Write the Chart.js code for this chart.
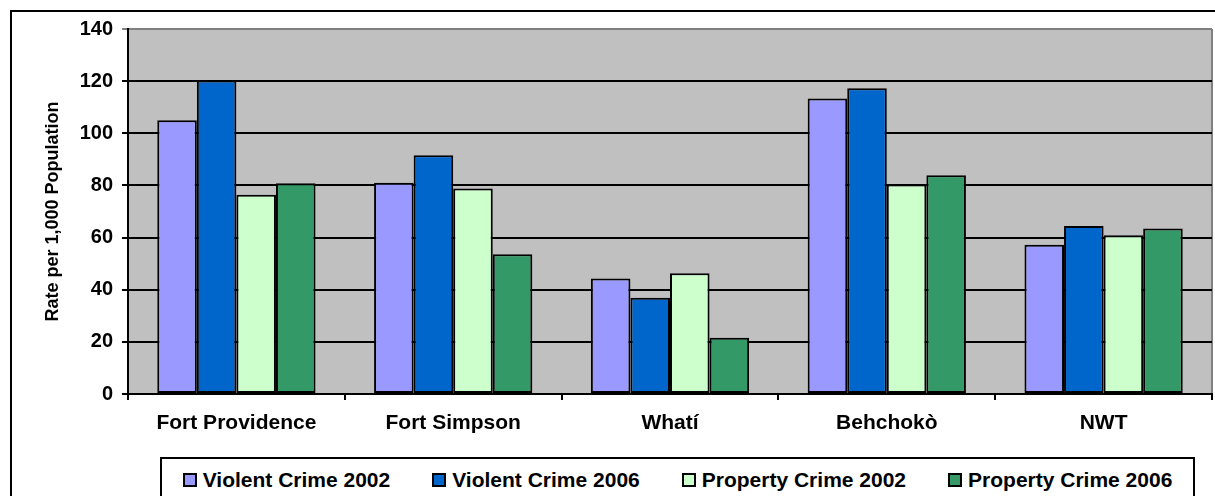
<!DOCTYPE html>
<html lang="en">
<head>
  <meta charset="UTF-8" />
  <title>Crime Rates</title>
  <script src="https://cdn.jsdelivr.net/npm/chart.js"></script>
  <style>
    body { margin: 0; background: #fff; font-family: Arial, "Liberation Sans", sans-serif; }
    .page { position: relative; width: 1215px; height: 496px; overflow: hidden; }
    .frame { position: absolute; left: 10px; top: 10px; width: 1300px; height: 600px; border: 2px solid #000; box-sizing: border-box; }
    .chart-box { position: absolute; left: 0; top: 0; width: 1215px; height: 445px; }
    .legend { position: absolute; left: 160px; top: 457px; width: 1035px; height: 80px; border: 2px solid #000; box-sizing: border-box;
              display: flex; justify-content: center; gap: 42px; padding-top: 8px; }
    .legend span.item { display: inline-flex; align-items: center; font-weight: bold; font-size: 21px; white-space: nowrap; height: 25px; }
    .legend span.sw { display: inline-block; width: 14px; height: 14px; border: 2px solid #000; box-sizing: border-box; margin-right: 6px; }
  </style>
</head>
<body>
<div class="page">
  <div class="frame"></div>
  <div class="chart-box"><canvas id="crimeChart"></canvas></div>
  <div class="legend" id="legend"></div>
</div>

<script>
  const communities = ['Fort Providence', 'Fort Simpson', 'Whatí', 'Behchokò', 'NWT'];
  const violent2002 = [105, 81, 44.3, 113.3, 57.2];
  const violent2006 = [120.2, 91.6, 36.9, 117.3, 64.4];
  const property2002 = [76.4, 78.8, 46.3, 80.4, 60.9];
  const property2006 = [80.8, 53.6, 21.6, 83.9, 63.5];
  const yTicks = [0, 20, 40, 60, 80, 100, 120, 140];

  const plotBg = {
    id: 'plotBg',
    beforeDraw(chart) {
      const { ctx, chartArea: a } = chart;
      ctx.save();
      ctx.fillStyle = '#C0C0C0';
      ctx.fillRect(a.left, a.top, a.right - a.left, a.bottom - a.top);
      ctx.strokeStyle = '#808080';
      ctx.lineWidth = 2;
      ctx.beginPath();
      ctx.moveTo(a.right, a.top);
      ctx.lineTo(a.right, a.bottom);
      ctx.stroke();
      ctx.restore();
    }
  };

  const chart = new Chart(document.getElementById('crimeChart'), {
    type: 'bar',
    data: {
      labels: communities,
      datasets: [
        { label: 'Violent Crime 2002', data: violent2002, backgroundColor: '#9999FF' },
        { label: 'Violent Crime 2006', data: violent2006, backgroundColor: '#0066CC' },
        { label: 'Property Crime 2002', data: property2002, backgroundColor: '#CCFFCC' },
        { label: 'Property Crime 2006', data: property2006, backgroundColor: '#339966' }
      ]
    },
    options: {
      responsive: true,
      maintainAspectRatio: false,
      animation: false,
      layout: { padding: { top: 29, right: 3, left: 0, bottom: 0 } },
      datasets: {
        bar: { barPercentage: 1, categoryPercentage: 0.73, borderColor: '#000', borderWidth: 2, borderSkipped: false }
      },
      plugins: {
        legend: { display: false },
        tooltip: { enabled: false }
      },
      scales: {
        x: {
          afterFit(scale) { scale.height = 51; },
          grid: { drawOnChartArea: false, color: '#000', lineWidth: 2, tickLength: 6, offset: true },
          border: { color: '#000', width: 2 },
          ticks: { color: '#000', padding: 11, font: { family: 'Arial', size: 21, weight: 'bold' } }
        },
        y: {
          min: 0,
          max: 140,
          afterFit(scale) { scale.width = 128; },
          afterBuildTicks(scale) { scale.ticks = yTicks.map(v => ({ value: v })); },
          grid: {
            color: c => (c.tick && c.tick.value === 140 ? '#808080' : '#000'),
            lineWidth: 2,
            tickLength: 6
          },
          border: { color: '#000', width: 2 },
          ticks: { color: '#000', padding: 9, font: { family: 'Arial', size: 20, weight: 'bold' } },
          title: {
            display: true,
            text: 'Rate per 1,000 Population',
            color: '#000',
            font: { family: 'Arial', size: 18, weight: 'bold' },
            padding: { top: 42, bottom: 0 }
          }
        }
      }
    },
    plugins: [plotBg]
  });

  // html legend built from the datasets
  const legendEl = document.getElementById('legend');
  chart.data.datasets.forEach(ds => {
    const item = document.createElement('span');
    item.className = 'item';
    const sw = document.createElement('span');
    sw.className = 'sw';
    sw.style.background = ds.backgroundColor;
    item.appendChild(sw);
    item.appendChild(document.createTextNode(ds.label));
    legendEl.appendChild(item);
  });
</script>
</body>
</html>
